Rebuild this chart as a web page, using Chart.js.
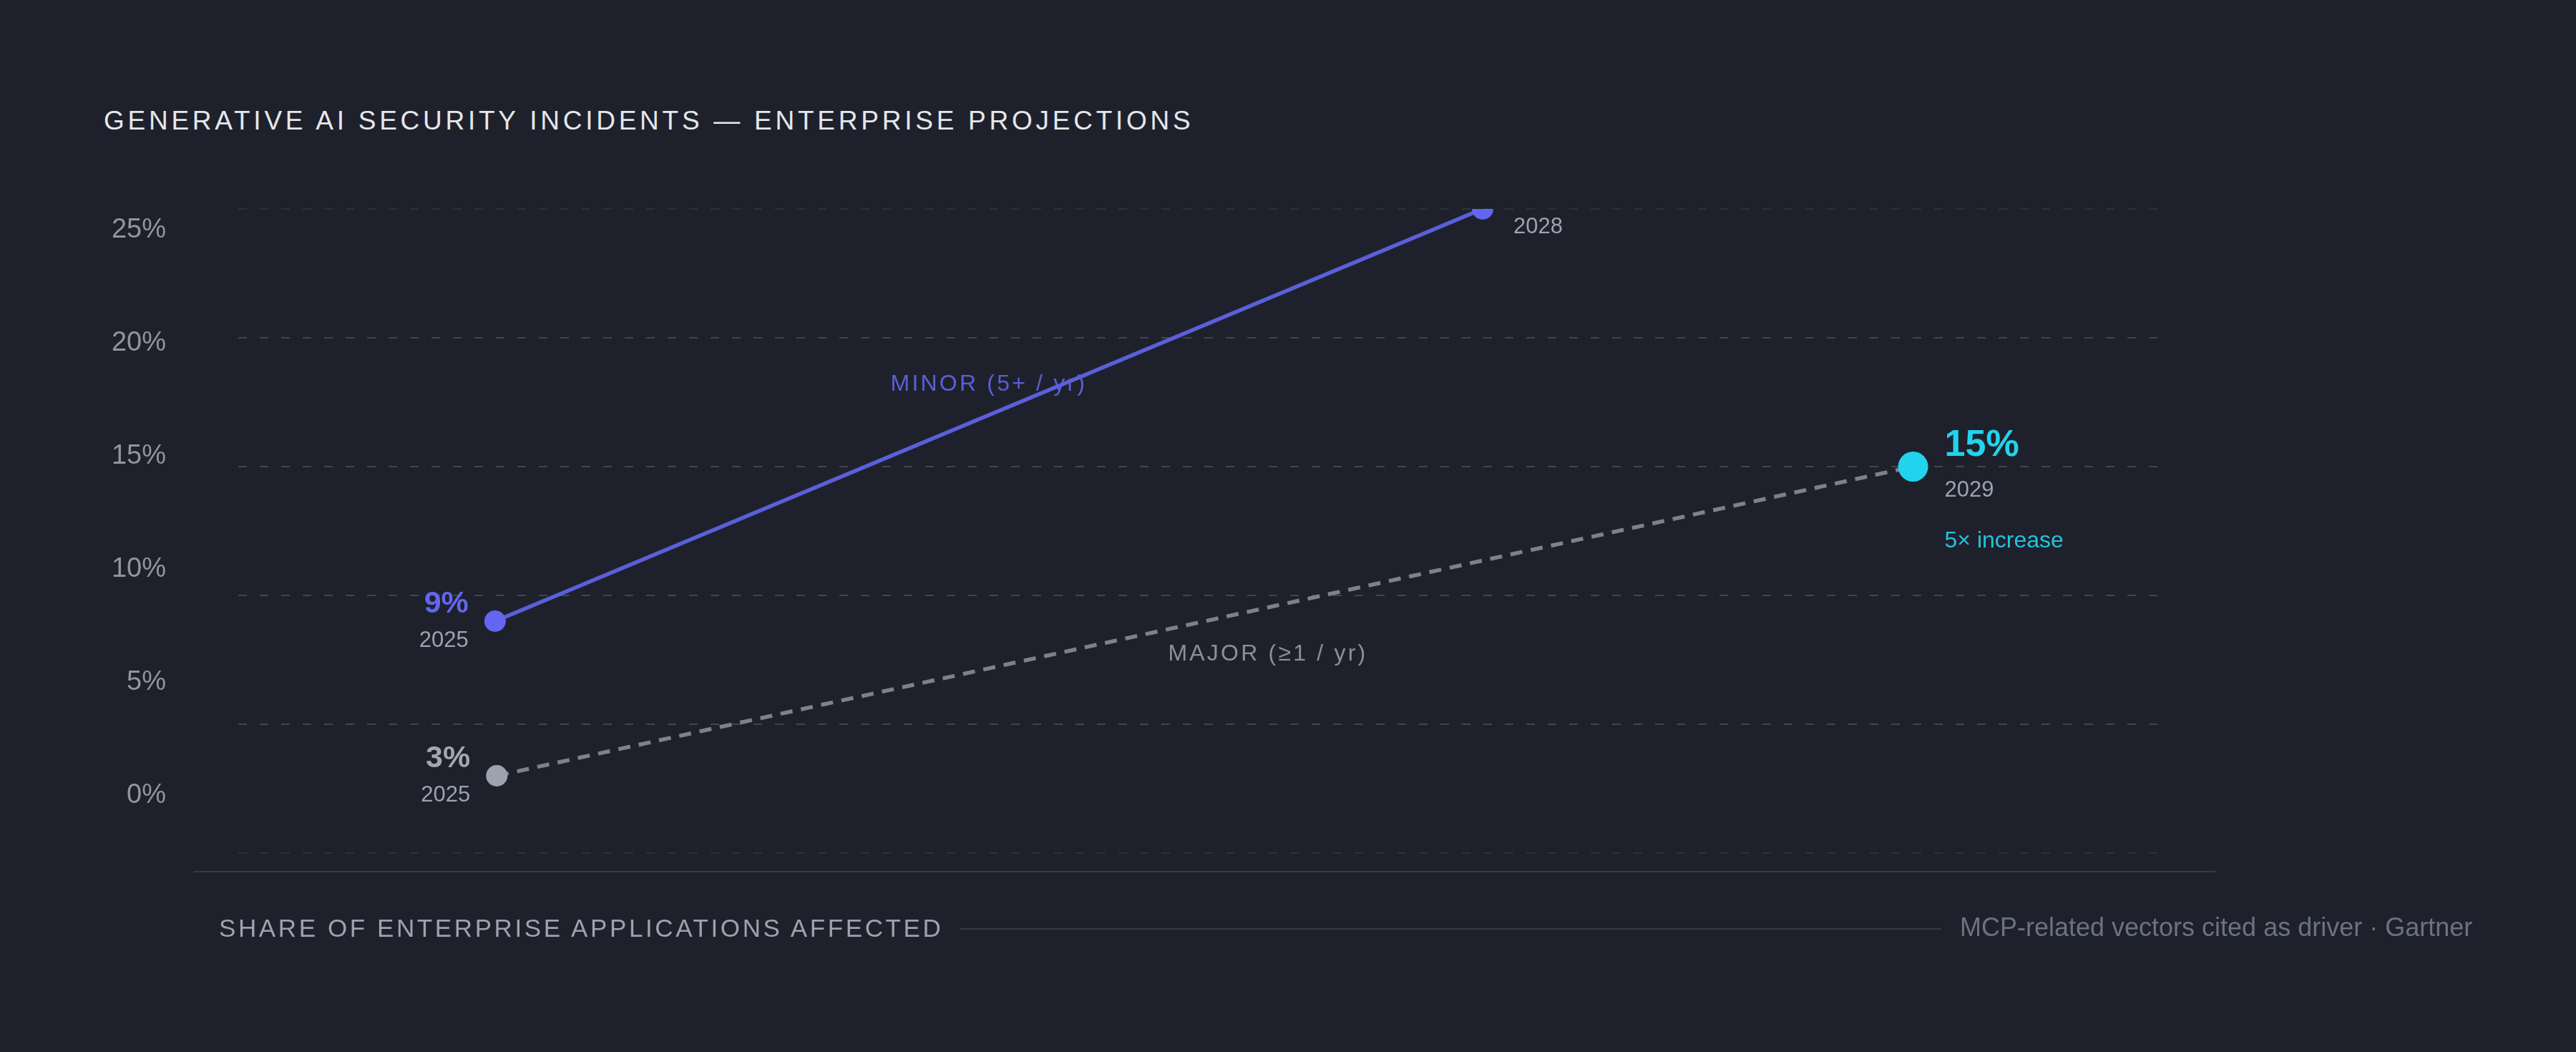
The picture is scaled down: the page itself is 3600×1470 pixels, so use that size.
<!DOCTYPE html>
<html>
<head>
<meta charset="utf-8">
<script src="https://cdn.jsdelivr.net/npm/chart.js@4.4.1/dist/chart.umd.min.js"></script>
<style>
html,body{margin:0;padding:0;background:#1e212b;width:3600px;height:1470px;overflow:hidden;font-family:"Liberation Sans",Arial,sans-serif}
#c{position:absolute;left:0;top:0}
.title{position:absolute;left:145px;top:150px;font-size:37px;line-height:1;letter-spacing:4.75px;color:#e5e7eb;white-space:nowrap}
.axisline{position:absolute;left:270px;top:1217px;width:2826px;height:2px;background:#363a45}
.foot-l{position:absolute;left:306px;top:1279px;font-size:35px;line-height:1;letter-spacing:3.6px;color:#9ca3af;white-space:nowrap}
.foot-line{position:absolute;left:1342px;top:1297px;width:1371px;height:2px;background:#353944}
.foot-r{position:absolute;left:2739px;top:1278px;font-size:36px;line-height:1;color:#6b7280;white-space:nowrap}
</style>
</head>
<body>
<div class="title">GENERATIVE AI SECURITY INCIDENTS — ENTERPRISE PROJECTIONS</div>
<canvas id="c" width="3600" height="1470"></canvas>
<div class="axisline"></div>
<div class="foot-l">SHARE OF ENTERPRISE APPLICATIONS AFFECTED</div>
<div class="foot-line"></div>
<div class="foot-r">MCP-related vectors cited as driver · Gartner</div>
<script>
// series data (share of enterprise apps, %)
const minorYears = [2025, 2028];
const minorValues = [9, 25];
const majorYears = [2025, 2029];
const majorValues = [3, 15];
const yTicks = [0, 5, 10, 15, 20, 25];
const seriesNames = ['MINOR (5+ / yr)', 'MAJOR (≥1 / yr)'];

const FONT = '"Liberation Sans", Arial, sans-serif';
const INDIGO = '#6366f1';
const GRAY = '#9ca3af';
const CYAN = '#22d3ee';

function txt(ctx, s, x, y, font, color, align, spacing) {
  ctx.save();
  ctx.font = font;
  ctx.fillStyle = color;
  ctx.textAlign = align || 'left';
  ctx.textBaseline = 'alphabetic';
  if (spacing) ctx.letterSpacing = spacing;
  ctx.fillText(s, x, y);
  ctx.restore();
}

const labelsPlugin = {
  id: 'labels',
  beforeDatasetsDraw(chart) {
    const ctx = chart.ctx;
    const m0 = chart.getDatasetMeta(0).data;
    const m1 = chart.getDatasetMeta(1).data;
    // series names along each line
    const ax = (m0[0].x + m0[1].x) / 2, ay = (m0[0].y + m0[1].y) / 2;
    txt(ctx, seriesNames[0], ax, ay - 34, '32px ' + FONT, '#5b5fd6', 'center', '3.2px');
    const bx = (m1[0].x + m1[1].x) / 2, by = (m1[0].y + m1[1].y) / 2;
    txt(ctx, seriesNames[1], bx + 88, by + 55, '32px ' + FONT, '#8a8f99', 'center', '3.2px');
  },
  afterDatasetsDraw(chart) {
    const ctx = chart.ctx;
    const m0 = chart.getDatasetMeta(0).data;
    const m1 = chart.getDatasetMeta(1).data;
    // start points
    let p = m0[0];
    txt(ctx, minorValues[0] + '%', p.x - 37, p.y - 12, 'bold 43px ' + FONT, INDIGO, 'right');
    txt(ctx, String(minorYears[0]), p.x - 37, p.y + 36, '31px ' + FONT, GRAY, 'right');
    p = m1[0];
    txt(ctx, majorValues[0] + '%', p.x - 37, p.y - 12, 'bold 43px ' + FONT, '#a3a7b1', 'right');
    txt(ctx, String(majorYears[0]), p.x - 37, p.y + 36, '31px ' + FONT, GRAY, 'right');
    // end points
    p = m0[1];
    txt(ctx, String(minorYears[1]), p.x + 43, p.y + 34, '31px ' + FONT, GRAY, 'left');
    p = m1[1];
    txt(ctx, majorValues[1] + '%', p.x + 44, p.y - 15, 'bold 52px ' + FONT, CYAN, 'left');
    txt(ctx, String(majorYears[1]), p.x + 44, p.y + 42, '31px ' + FONT, GRAY, 'left');
    txt(ctx, (majorValues[1] / majorValues[0]) + '× increase', p.x + 44, p.y + 113, '32px ' + FONT, '#22c4de', 'left');
  }
};

new Chart(document.getElementById('c'), {
  type: 'line',
  data: {
    datasets: [
      {
        label: seriesNames[0],
        data: minorYears.map((x, i) => ({ x: x, y: minorValues[i] })),
        xAxisID: 'xMinor',
        yAxisID: 'y',
        borderColor: '#5b5fd9',
        borderWidth: 5.5,
        pointRadius: [15, 15],
        pointBackgroundColor: INDIGO,
        pointBorderWidth: 0,
        clip: { left: 100, right: 100, top: 0, bottom: 100 }
      },
      {
        label: seriesNames[1],
        data: majorYears.map((x, i) => ({ x: x, y: majorValues[i] })),
        xAxisID: 'xMajor',
        yAxisID: 'y',
        borderColor: '#7d818c',
        borderWidth: 5.5,
        borderDash: [17, 12],
        pointRadius: [15, 21],
        pointBackgroundColor: [GRAY, CYAN],
        pointBorderWidth: 0,
        clip: { left: 100, right: 100, top: 0, bottom: 100 }
      }
    ]
  },
  options: {
    responsive: false,
    animation: false,
    devicePixelRatio: 1,
    events: [],
    layout: { padding: { left: 133, top: 292, right: 585, bottom: 278 } },
    plugins: { legend: { display: false }, tooltip: { enabled: false } },
    scales: {
      xMinor: { type: 'linear', display: false, min: 2024.22, max: 2030.05 },
      xMajor: { type: 'linear', display: false, min: 2024.27, max: 2029.69 },
      y: {
        type: 'linear', position: 'left', min: 0, max: 25,
        ticks: { display: false, stepSize: 5 },
        grid: {
          drawTicks: false, lineWidth: 2,
          color: c => (c.tick.value === 0 || c.tick.value === 25) ? '#2c303a' : '#41454f'
        },
        border: { display: false, dash: [12, 18] },
        afterFit: s => { s.width = 0; }
      },
      yLabels: {
        type: 'linear', position: 'left', min: -2.56, max: 25.92,
        afterBuildTicks: s => { s.ticks = yTicks.map(v => ({ value: v })); },
        ticks: { callback: v => v + '%', color: '#9095a0', font: { family: FONT, size: 38 }, padding: 101 },
        grid: { display: false, drawTicks: false },
        border: { display: false },
        afterFit: s => { s.width = 200; }
      }
    }
  },
  plugins: [labelsPlugin]
});
</script>
</body>
</html>
